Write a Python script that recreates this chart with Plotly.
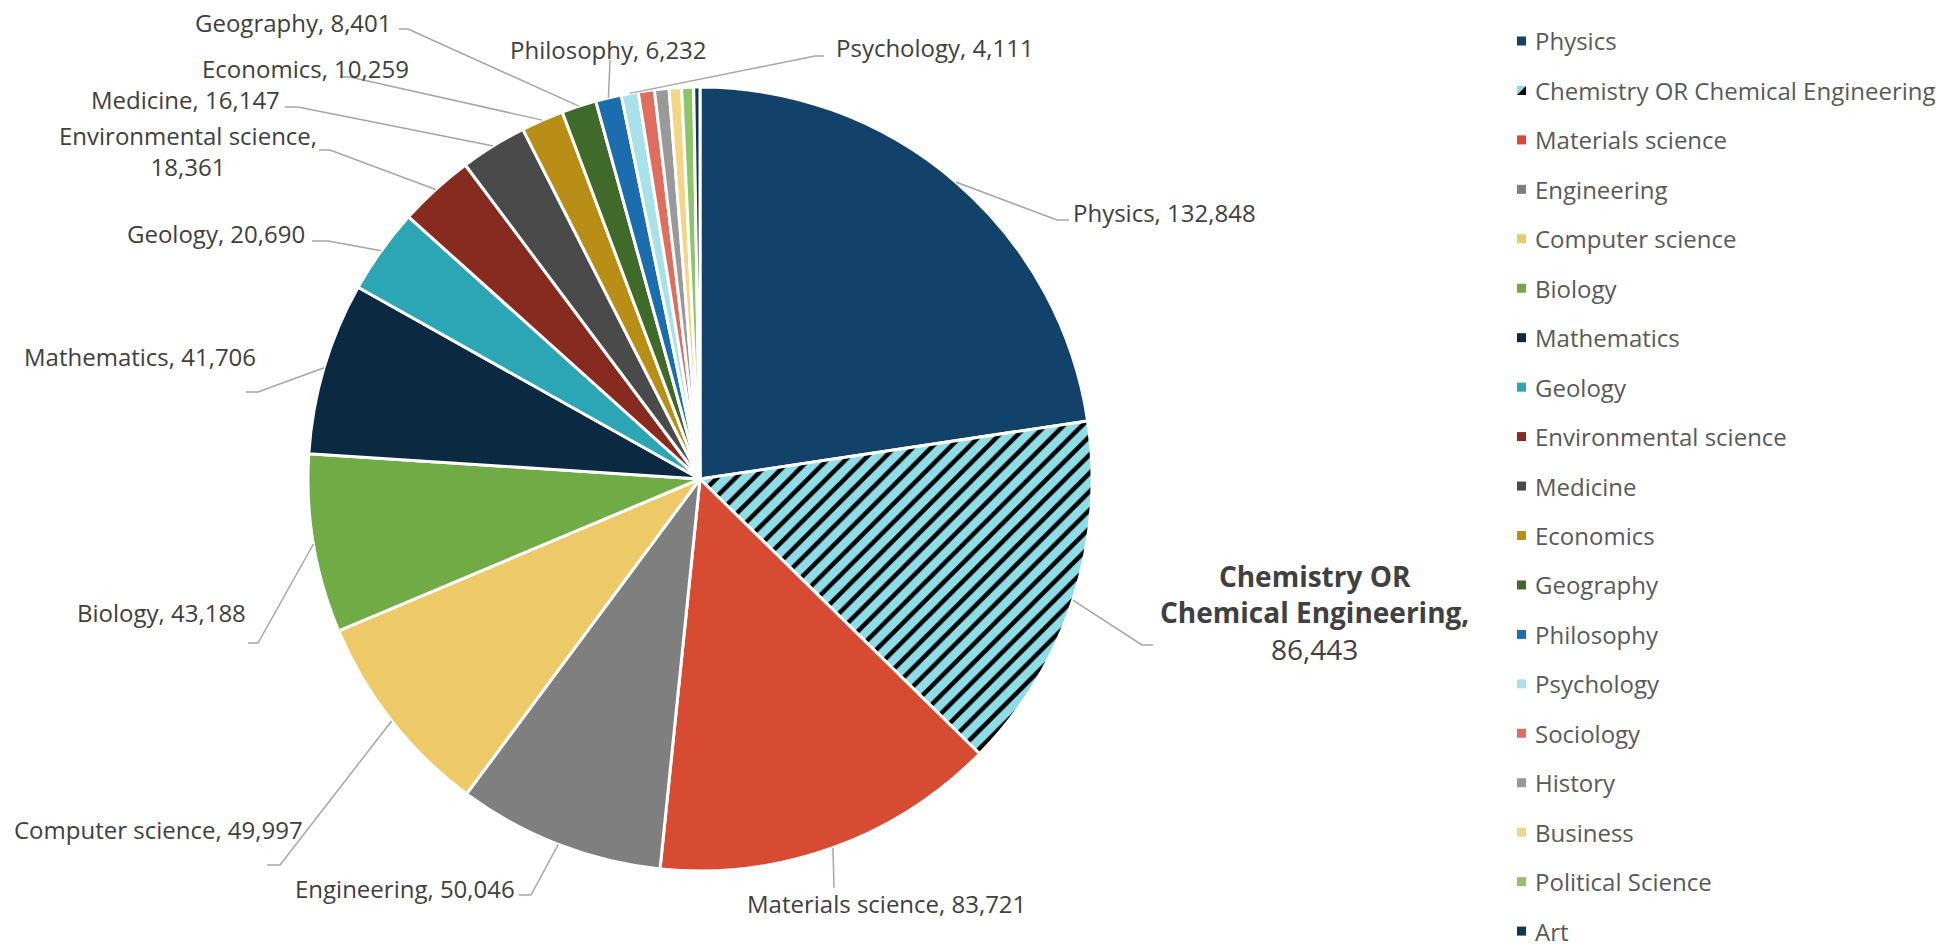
import math
import plotly.graph_objects as go

# ---------------- data ----------------
categories = ["Physics", "Chemistry OR Chemical Engineering", "Materials science", "Engineering",
              "Computer science", "Biology", "Mathematics", "Geology", "Environmental science",
              "Medicine", "Economics", "Geography", "Philosophy", "Psychology", "Sociology",
              "History", "Business", "Political Science", "Art"]
values = [132848, 86443, 83721, 50046, 49997, 43188, 41706, 20690, 18361,
          16147, 10259, 8401, 6232, 4111, 3900, 3500, 3000, 2900, 1500]
colors = ["#12426a", "#8edce6", "#d84b33", "#7f7f7f", "#edc968", "#70ab46", "#0c2942",
          "#2ca6b4", "#872a1f", "#4a4a4a", "#b98e17", "#406a2a", "#1c6dad", "#a8e2e8",
          "#e06e5e", "#999999", "#f3d586", "#8ec46b", "#0f3656"]
HATCHED = "Chemistry OR Chemical Engineering"

# ---------------- layout constants (pixels) ----------------
W, H = 1952, 950
CX, CY, R = 700, 479, 392
LINE_COLOR = "#a6a6a6"
TEXT_COLOR = "#404040"
LEGEND_COLOR = "#595959"
FONT = "'Open Sans', Lato, sans-serif"
LABEL_SIZE = 24
LEG_X, LEG_Y0, LEG_DY, LEG_SW = 1517, 41, 49.45, 9

# label placement: (text, x, y[, size]), leader points from label toward the pie
label_layout = {
    "Physics": dict(lines=[("Physics, 132,848", 1164, 213)], pts=[(1069, 220), (1057, 220)]),
    HATCHED: dict(lines=[("<b>Chemistry OR</b><br><b>Chemical Engineering,</b><br>86,443", 1314, 612, 28)],
                  pts=[(1153, 645), (1142, 645)]),
    "Materials science": dict(lines=[("Materials science, 83,721", 886, 903)], pts=[(834, 888)]),
    "Engineering": dict(lines=[("Engineering, 50,046", 405, 888)], pts=[(519, 895), (531, 895)]),
    "Computer science": dict(lines=[("Computer science, 49,997", 158, 829)], pts=[(267, 865), (280, 865)]),
    "Biology": dict(lines=[("Biology, 43,188", 161, 612)], pts=[(248, 643), (258, 643)]),
    "Mathematics": dict(lines=[("Mathematics, 41,706", 140, 357)], pts=[(246, 392), (258, 392)]),
    "Geology": dict(lines=[("Geology, 20,690", 216, 233)], pts=[(312, 241), (328, 241)]),
    "Environmental science": dict(lines=[("Environmental science,<br>18,361", 188, 151)],
                                  pts=[(319, 150), (330, 150)]),
    "Medicine": dict(lines=[("Medicine, 16,147", 185, 99)], pts=[(285, 107), (298, 107)]),
    "Economics": dict(lines=[("Economics, 10,259", 305, 68)], pts=[(340, 77), (350, 77)]),
    "Geography": dict(lines=[("Geography, 8,401", 293, 22)], pts=[(399, 29), (408, 29)]),
    "Philosophy": dict(lines=[("Philosophy, 6,232", 608, 50)], pts=[(610, 60)]),
    "Psychology": dict(lines=[("Psychology, 4,111", 935, 47)], pts=[(824, 56), (815, 56)]),
}


def px(x):
    return x / W


def py(y):
    return 1 - y / H


fig = go.Figure()

patterns = ["/" if c == HATCHED else "" for c in categories]
hatch_bg = colors[categories.index(HATCHED)]

fig.add_trace(go.Pie(
    labels=categories, values=values, sort=False, direction="clockwise", rotation=0,
    marker=dict(colors=colors, line=dict(color="white", width=3),
                pattern=dict(shape=patterns, fgcolor="#000000", bgcolor=hatch_bg,
                             size=13, solidity=0.34)),
    textinfo="none", hoverinfo="label+value+percent", showlegend=False,
    domain=dict(x=[px(CX - R), px(CX + R)], y=[py(CY + R), py(CY - R)]),
))

shapes = []
annotations = []

# labels and leader lines (leader start computed from each slice's mid angle)
total = sum(values)
cum = 0
for c, v in zip(categories, values):
    mid = (cum + v / 2) / total
    cum += v
    if c not in label_layout:
        continue
    th = 2 * math.pi * mid
    ex = CX + R * math.sin(th)
    ey = CY - R * math.cos(th)
    spec = label_layout[c]
    pts = spec["pts"] + [(ex, ey)]
    path = "M " + " L ".join(f"{px(x):.5f},{py(y):.5f}" for x, y in pts)
    shapes.append(dict(type="path", xref="paper", yref="paper", path=path,
                       line=dict(color=LINE_COLOR, width=1.5)))
    for ln in spec["lines"]:
        size = ln[3] if len(ln) > 3 else LABEL_SIZE
        annotations.append(dict(text=ln[0], x=px(ln[1]), y=py(ln[2]), xref="paper", yref="paper",
                                xanchor="center", yanchor="middle", showarrow=False,
                                font=dict(family=FONT, size=size, color=TEXT_COLOR)))

# legend (right side): swatch + text per category
for i, (c, col) in enumerate(zip(categories, colors)):
    yc = LEG_Y0 + i * LEG_DY
    x0, x1 = LEG_X, LEG_X + LEG_SW
    y0, y1 = yc - LEG_SW / 2, yc + LEG_SW / 2
    if c == HATCHED:
        shapes.append(dict(type="path", xref="paper", yref="paper", line=dict(width=0),
                           fillcolor=col,
                           path=f"M {px(x0)},{py(y0)} L {px(x1)},{py(y0)} L {px(x0)},{py(y1)} Z"))
        shapes.append(dict(type="path", xref="paper", yref="paper", line=dict(width=0),
                           fillcolor="#000000",
                           path=f"M {px(x1)},{py(y0)} L {px(x1)},{py(y1)} L {px(x0)},{py(y1)} Z"))
    else:
        shapes.append(dict(type="rect", xref="paper", yref="paper", line=dict(width=0),
                           fillcolor=col, x0=px(x0), x1=px(x1), y0=py(y1), y1=py(y0)))
    annotations.append(dict(text=c, x=px(1533), y=py(yc), xref="paper", yref="paper",
                            xanchor="left", yanchor="middle", showarrow=False,
                            font=dict(family=FONT, size=24, color=LEGEND_COLOR)))

fig.update_layout(
    width=W, height=H, margin=dict(l=0, r=0, t=0, b=0),
    paper_bgcolor="white", plot_bgcolor="white",
    showlegend=False,
    shapes=shapes, annotations=annotations,
)

fig.write_html("out.html")
